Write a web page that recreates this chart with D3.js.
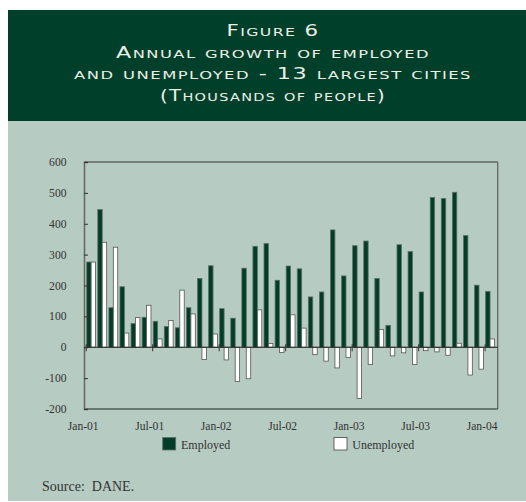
<!DOCTYPE html>
<html><head><meta charset="utf-8">
<script src="https://cdn.jsdelivr.net/npm/d3@7"></script>
<style>
html,body{margin:0;padding:0;background:#fff;}
svg{display:block;}
.title{font-family:"DejaVu Sans",sans-serif;font-variant:small-caps;fill:#eeeee6;letter-spacing:1px;}
.serif{font-family:"Liberation Serif","Times New Roman",serif;fill:#333;}
</style></head><body>
<svg id="c" width="526" height="502"></svg>
<script>
// ---- data ----
const months = ["Jan-01","Feb-01","Mar-01","Apr-01","May-01","Jun-01","Jul-01","Aug-01","Sep-01","Oct-01","Nov-01","Dec-01",
  "Jan-02","Feb-02","Mar-02","Apr-02","May-02","Jun-02","Jul-02","Aug-02","Sep-02","Oct-02","Nov-02","Dec-02",
  "Jan-03","Feb-03","Mar-03","Apr-03","May-03","Jun-03","Jul-03","Aug-03","Sep-03","Oct-03","Nov-03","Dec-03","Jan-04"];
const employed = [276,446,128,196,77,97,84,67,63,128,223,264,125,94,256,327,336,217,263,254,163,179,380,231,329,344,223,71,332,310,179,485,482,502,362,201,181];
const unemployed = [276,340,324,46,96,136,27,87,185,108,-40,43,-41,-111,-102,121,12,-17,105,62,-24,-45,-67,-33,-166,-56,58,-28,-18,-56,-11,-15,-26,13,-90,-71,27];
const xTickLabels = ["Jan-01","Jul-01","Jan-02","Jul-02","Jan-03","Jul-03","Jan-04"];
const yTicks = [-200,-100,0,100,200,300,400,500,600];
const seriesNames = ["Employed","Unemployed"];
const titleLines = ["Figure 6","Annual growth of employed","and unemployed - 13 largest cities","(Thousands of people)"];

// ---- layout ----
const svg = d3.select("#c");
const darkGreen = "#00402a", panel = "#b6cbc2";
svg.append("rect").attr("x",8).attr("y",10).attr("width",518).attr("height",111).attr("fill",darkGreen);
svg.append("rect").attr("x",8).attr("y",121).attr("width",518).attr("height",380).attr("fill",panel);

const tl = [{y:36,w:93},{y:57.7,w:314},{y:79,w:398},{y:101,w:226}];
svg.selectAll("text.title").data(titleLines).join("text").attr("class","title")
  .attr("x",273).attr("y",(d,i)=>tl[i].y).attr("text-anchor","middle")
  .attr("font-size",15).attr("textLength",(d,i)=>tl[i].w).attr("lengthAdjust","spacingAndGlyphs")
  .text(d=>d);

const L=84, R=497.7, T=162, B=409;
const x = d3.scaleBand().domain(months).range([85.6,495.6]).paddingInner(0.2).paddingOuter(0.1);
const y = d3.scaleLinear().domain([-200,600]).range([B,T]);
const bw = x.bandwidth()/2;

const g = svg.append("g");
// bars
const eFill="#013d28";
g.selectAll("rect.e").data(employed).join("rect").attr("class","e")
  .attr("x",(d,i)=>x(months[i])).attr("width",bw)
  .attr("y",d=>y(Math.max(0,d))).attr("height",d=>Math.abs(y(d)-y(0)))
  .attr("fill",eFill).attr("stroke","#5f6f66").attr("stroke-width",0.8);
g.selectAll("rect.u").data(unemployed).join("rect").attr("class","u")
  .attr("x",(d,i)=>x(months[i])+bw).attr("width",bw)
  .attr("y",d=>y(Math.max(0,d))).attr("height",d=>Math.abs(y(d)-y(0)))
  .attr("fill","#ffffff").attr("stroke","#555").attr("stroke-width",0.8);

// plot frame
svg.append("line").attr("x1",L).attr("x2",R).attr("y1",T).attr("y2",T).attr("stroke","#333");
svg.append("line").attr("x1",R).attr("x2",R).attr("y1",T).attr("y2",B).attr("stroke","#666").attr("stroke-width",1.3);
svg.append("line").attr("x1",L).attr("x2",R).attr("y1",B).attr("y2",B).attr("stroke","#222");
// zero line
svg.append("line").attr("x1",L).attr("x2",R).attr("y1",y(0)).attr("y2",y(0)).attr("stroke","#222");

// y axis
const yAxis = d3.axisRight(y).tickValues(yTicks).tickSize(4).tickFormat("");
const ya = svg.append("g").attr("transform",`translate(${L},0)`).call(yAxis);
ya.select(".domain").attr("stroke","#666").attr("stroke-width",1.5);
ya.selectAll(".tick line").attr("stroke","#333");
svg.selectAll("text.yl").data(yTicks).join("text").attr("class","serif yl")
  .attr("x",66.5).attr("y",d=>y(d)+4).attr("text-anchor","end").attr("font-size",11.6).text(d=>d);

// x ticks on zero line
const tickMonths = months.filter((m,i)=>i%6===0);
svg.selectAll("line.xt").data(tickMonths).join("line").attr("class","xt")
  .attr("x1",d=>x(d)-0.5).attr("x2",d=>x(d)-0.5).attr("y1",y(0)-3).attr("y2",y(0)+4).attr("stroke","#333");
svg.selectAll("text.xl").data(xTickLabels).join("text").attr("class","serif xl")
  .attr("x",d=>x(d)-3.5).attr("y",430).attr("text-anchor","middle").attr("font-size",11.6).text(d=>d);

// legend
const leg = [{x:162.7,fill:eFill,stroke:"#5f6f66"},{x:334,fill:"#fff",stroke:"#444"}];
seriesNames.forEach((n,i)=>{
  svg.append("rect").attr("x",leg[i].x).attr("y",437.5).attr("width",13).attr("height",12.5)
    .attr("fill",leg[i].fill).attr("stroke",leg[i].stroke).attr("stroke-width",0.8);
  svg.append("text").attr("class","serif").attr("x",leg[i].x+18.3).attr("y",449).attr("font-size",12).text(n);
});

svg.append("text").attr("class","serif").attr("x",42).attr("y",491).attr("font-size",14)
  .attr("xml:space","preserve").style("white-space","pre").text("Source:  DANE.");
</script></body></html>
